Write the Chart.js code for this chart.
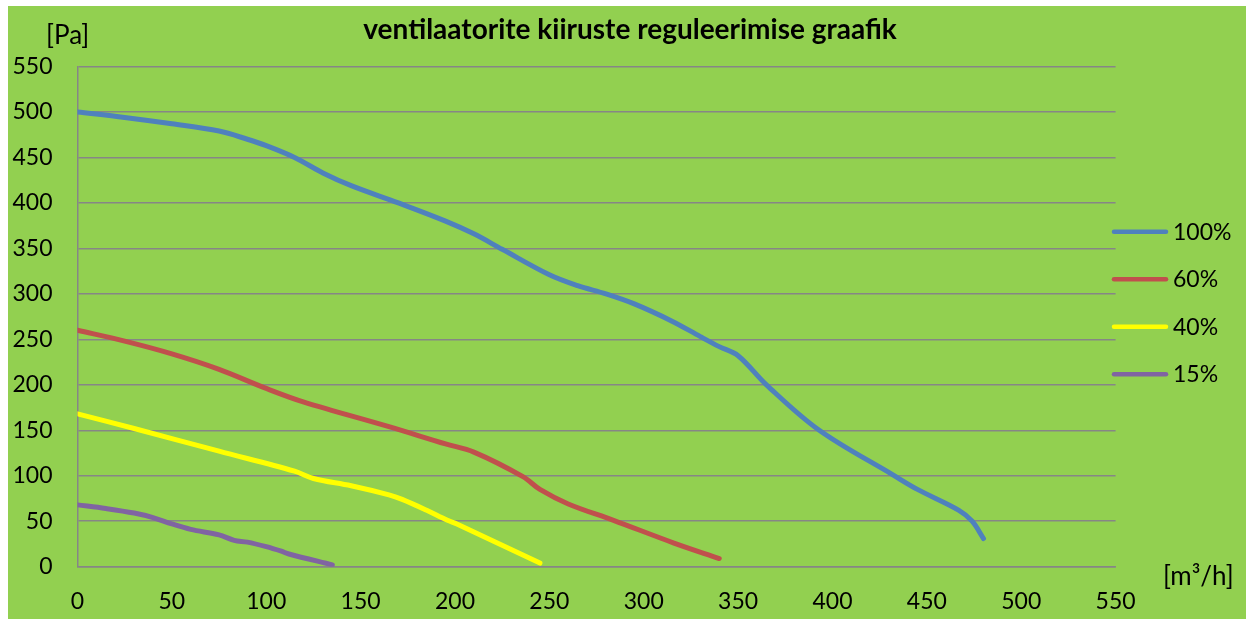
<!DOCTYPE html>
<html>
<head>
<meta charset="utf-8">
<script src="https://cdn.jsdelivr.net/npm/chart.js@4.4.0/dist/chart.umd.min.js"></script>
<style>
  html, body { margin: 0; padding: 0; background: #fff; }
</style>
</head>
<body>
<canvas id="fanChart" width="1249" height="619"></canvas>
<script>
// air flow [m³/h] and pressure [Pa]
const flow100 = [0, 25, 50, 75, 90, 100, 115, 130, 145, 170, 195, 210, 225, 250, 265, 280, 295, 315, 330, 340, 350, 365, 393, 432, 445, 467, 474, 480];
const pres100 = [500, 494, 487, 479, 470, 463, 450, 433, 419, 400, 380, 366, 349, 321, 309, 300, 289, 270, 253, 242, 232, 200, 150, 101, 85, 62, 50, 31];

const flow60 = [0, 25, 50, 75, 100, 120, 165, 195, 210, 236, 245, 260, 284, 316, 340];
const pres60 = [260, 248, 234, 217, 196, 181, 154, 135, 126, 99, 85, 69, 51, 26, 9];

const flow40 = [0, 30, 75, 115, 125, 145, 165, 172, 185, 196, 201, 245];
const pres40 = [168, 152, 127, 105, 97, 89, 79, 74, 62, 51, 47, 4];

const flow15 = [0, 15, 30, 40, 50, 60, 75, 83, 90, 100, 108, 112, 135];
const pres15 = [68, 64, 59, 54, 47, 41, 35, 29, 27, 22, 17, 14, 2];

const seriesNames = ['100%', '60%', '40%', '15%'];
const seriesColors = ['#4F81BD', '#C0504D', '#FFFF00', '#8064A2'];
const axisTicks = [0, 50, 100, 150, 200, 250, 300, 350, 400, 450, 500, 550];

const FONT = 'Lato, "Open Sans", sans-serif';

function pts(xs, ys) {
  return xs.map((x, i) => ({ x: x, y: ys[i] }));
}

const allFlows = [flow100, flow60, flow40, flow15];
const allPres = [pres100, pres60, pres40, pres15];

const datasets = seriesNames.map((name, i) => ({
  label: name,
  data: pts(allFlows[i], allPres[i]),
  borderColor: seriesColors[i],
  backgroundColor: seriesColors[i],
  borderWidth: 5,
  borderCapStyle: 'round',
  borderJoinStyle: 'round',
  pointRadius: 0,
  showLine: true,
  tension: 0.35
}));

// green frame, title, axis units and legend
const decor = {
  id: 'decor',
  beforeDraw(chart) {
    const c = chart.ctx;
    c.save();
    c.fillStyle = '#fff';
    c.fillRect(0, 0, chart.width, chart.height);
    c.fillStyle = '#92D050';
    c.fillRect(8, 6, 1238, 613);
    c.restore();
  },
  afterDraw(chart) {
    const c = chart.ctx;
    c.save();
    c.fillStyle = '#000';
    c.textBaseline = 'alphabetic';
    c.font = 'bold 28px ' + FONT;
    c.textAlign = 'center';
    c.fillText('ventilaatorite kiiruste reguleerimise graafik', 630, 39);
    c.font = '26px ' + FONT;
    c.textAlign = 'left';
    c.fillText('[Pa]', 46, 44);
    c.fillText('[m³/h]', 1163, 585);

    c.font = '23px ' + FONT;
    chart.data.datasets.forEach((ds, i) => {
      const y = 231.7 + i * 47.5;
      c.strokeStyle = ds.borderColor;
      c.lineWidth = 4.5;
      c.lineCap = 'round';
      c.beginPath();
      c.moveTo(1114, y);
      c.lineTo(1166, y);
      c.stroke();
      c.fillStyle = '#000';
      c.fillText(ds.label, 1173, y + 8);
    });
    c.restore();
  }
};

new Chart(document.getElementById('fanChart'), {
  type: 'scatter',
  data: { datasets: datasets },
  plugins: [decor],
  options: {
    responsive: false,
    animation: false,
    layout: { padding: { top: 66.5, right: 133.4, bottom: 0, left: 0 } },
    plugins: {
      legend: { display: false },
      title: { display: false },
      tooltip: { enabled: false }
    },
    scales: {
      x: {
        type: 'linear',
        min: 0,
        max: 550,
        afterFit(scale) { scale.height = 52.3; },
        afterBuildTicks(scale) { scale.ticks = axisTicks.map(v => ({ value: v })); },
        grid: { display: false, drawTicks: false },
        border: { display: true, color: '#868686', width: 1.5 },
        ticks: { color: '#000', padding: 21, font: { family: FONT, size: 23 } }
      },
      y: {
        type: 'linear',
        min: 0,
        max: 550,
        afterFit(scale) { scale.width = 77.5; },
        afterBuildTicks(scale) { scale.ticks = axisTicks.map(v => ({ value: v })); },
        grid: { color: '#868686', lineWidth: 1.5, drawTicks: false },
        border: { display: true, color: '#868686', width: 1.5 },
        ticks: { color: '#000', padding: 25, font: { family: FONT, size: 23 } }
      }
    }
  }
});
</script>
</body>
</html>
